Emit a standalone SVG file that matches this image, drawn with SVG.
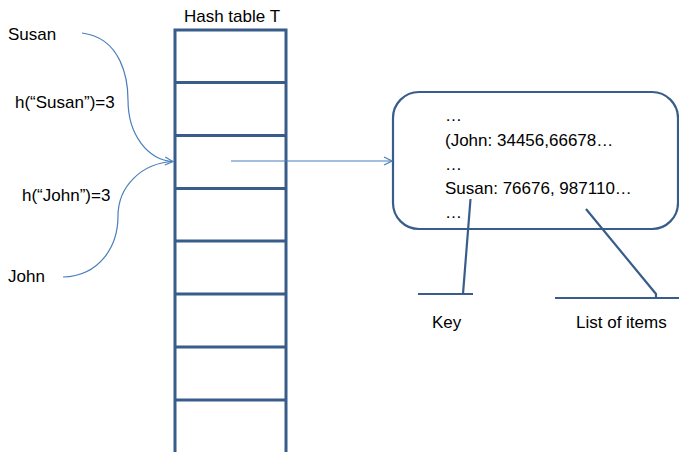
<svg xmlns="http://www.w3.org/2000/svg" width="679" height="452" viewBox="0 0 679 452">
<style>
text{font-family:"Liberation Sans","DejaVu Sans",sans-serif;font-size:17px;fill:#000}
.tbl{stroke:#385d8a;stroke-width:3;fill:none}
.conn{stroke:#4a7ebb;stroke-width:1.2;fill:none}
.lead{stroke:#385d8a;stroke-width:2.2;fill:none}
</style>
<defs>
<marker id="open" viewBox="0 0 10 10" refX="9" refY="5" markerWidth="10" markerHeight="10" markerUnits="userSpaceOnUse" orient="auto">
<path d="M1,1 L9,5 L1,9" fill="none" stroke="#4a7ebb" stroke-width="1.2"/>
</marker>
</defs>
<rect width="679" height="452" fill="#fff"/>
<g id="hash-table">
<text x="232" y="22" text-anchor="middle">Hash table T</text>
<path class="tbl" d="M175,452 V30 H286 V452"/>
<path class="tbl" d="M175,82.5 H286 M175,135.5 H286 M175,188.5 H286 M175,241 H286 M175,294 H286 M175,347 H286 M175,400 H286"/>
</g>
<g id="susan">
<text x="8" y="40">Susan</text>
</g>
<g id="h-susan">
<text x="15" y="108">h(“Susan”)=3</text>
</g>
<g id="h-john">
<text x="22" y="201">h(“John”)=3</text>
</g>
<g id="john">
<text x="8" y="282">John</text>
</g>
<g id="bucket">
<rect x="393" y="92" width="285" height="137" rx="26" ry="26" fill="none" stroke="#385d8a" stroke-width="2.2"/>
<text x="445" y="121">…</text>
<text x="445" y="146">(John: 34456,66678…</text>
<text x="445" y="170">…</text>
<text x="445" y="194">Susan: 76676, 987110…</text>
<text x="445" y="218">…</text>
</g>
<g id="key">
<text x="432" y="328">Key</text>
</g>
<g id="list-of-items">
<text x="576" y="328">List of items</text>
</g>
<g id="connectors">
<path class="conn" d="M82,33 C122,38 128,80 128,100 C128,135 148,160 173,161.5" marker-end="url(#open)"/>
<path class="conn" d="M63,277 C100,276 118,246 118,216 C118,186 142,163 173,161.5"/>
<path class="conn" d="M231,161 H392" marker-end="url(#open)"/>
<path class="lead" d="M470.5,199 L463,294 M418,294 H473"/>
<path class="lead" d="M586,209 L656,294 V298 M555,298 H679"/>
</g>
</svg>
